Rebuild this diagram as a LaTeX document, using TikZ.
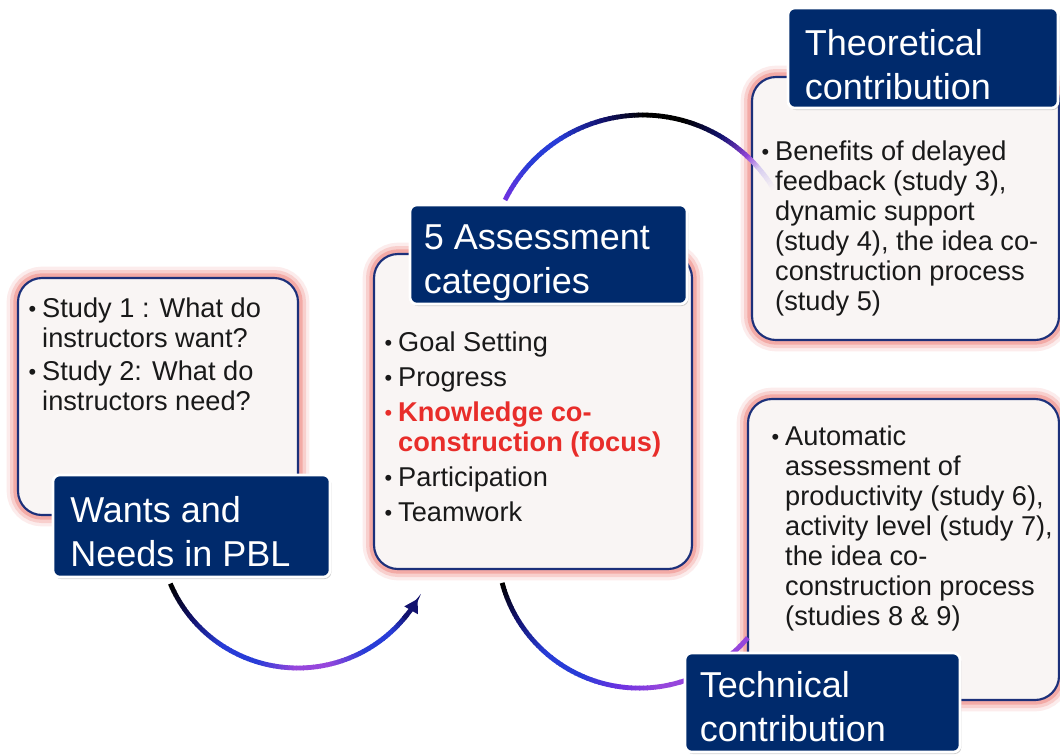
\documentclass[tikz,border=0pt]{standalone}
\usepackage{graphicx}
\usepackage{fontspec}
\setmainfont{Liberation Sans}
\usetikzlibrary{arrows.meta,shadows}

\definecolor{boxfill}{RGB}{249,245,244}
\definecolor{boxline}{RGB}{28,48,122}
\definecolor{glowpink}{RGB}{242,155,150}
\definecolor{titlefill}{RGB}{0,42,108}
\definecolor{arcnavy}{RGB}{18,18,110}
\definecolor{arcblue}{RGB}{40,60,215}
\definecolor{arcviolet}{RGB}{110,50,225}
\definecolor{arcpurple}{RGB}{150,70,220}
\definecolor{arcfade}{RGB}{215,205,240}
\definecolor{focusred}{RGB}{232,45,42}

\newcommand{\itm}{\makebox[9.5pt][l]{\hspace{-0.8pt}\raisebox{0.8pt}{\scalebox{.8}{\textbullet}}}}
\newcommand{\ind}{\hspace*{9.5pt}}

\tikzset{
  contentbox/.style={preaction={draw=glowpink,line width=17pt,opacity=.18},
    preaction={draw=glowpink,line width=12pt,opacity=.35},
    preaction={draw=glowpink,line width=7pt,opacity=.7},
    fill=boxfill, draw=boxline, line width=1.6pt, rounded corners=18pt},
  titlebox/.style={fill=titlefill, draw=white, line width=2pt, rounded corners=5pt,
    drop shadow={opacity=.35, shadow xshift=1pt, shadow yshift=-1.5pt}},
  titletext/.style={anchor=north west, inner sep=0pt, align=left, text=white,
    font=\fontsize{27}{33}\selectfont},
  bodytext/.style={anchor=north west, inner sep=0pt, align=left, text=black!90,
    font=\fontsize{20.4}{22.5}\selectfont},
  arcline/.style={line width=3.6pt},
}

\begin{document}
\begin{tikzpicture}[x=0.75pt,y=0.75pt,yscale=-1,xscale=1]
        \useasboundingbox (0,0) rectangle (1060,754);
        \fill[white] (0,0) rectangle (1060,754);

        %Shape: Rounded Rect
        \draw[contentbox] (18,278) rectangle (298,515);
        %Shape: Rounded Rect
        \draw[contentbox] (374,254) rectangle (692,569);
        %Shape: Rounded Rect
        \draw[contentbox] (752,77) rectangle (1059,340);
        %Shape: Rounded Rect
        \draw[contentbox] (748,399) rectangle (1059,700);

        % arc centres
        \coordinate (wantsarc) at (297.8,529.5);
        \coordinate (theoryarc) at (642.4,268.5);
        \coordinate (techarc) at (639.3,546.1);

        %Curve Lines: wants -> categories
        \foreach \a/\b/\ca/\cb in {157/140/black/arcnavy, 140/124/arcnavy/arcblue, 124/108/arcblue/arcblue, 108/92/arcblue/arcpurple, 92/78/arcpurple/arcpurple, 78/62/arcpurple/arcblue, 62/48/arcblue/arcblue, 48/38/arcblue/arcnavy}{
          \foreach \k in {0,...,9}{
            \pgfmathsetmacro{\ta}{\a+(\b-\a)*\k/10}
            \pgfmathsetmacro{\tb}{\a+(\b-\a)*(\k+1.2)/10}
            \pgfmathtruncatemacro{\mix}{100-10*\k}
            \draw[arcline, draw=\ca!\mix!\cb] ([shift={(\ta:138.5)}]wantsarc) arc[start angle=\ta, end angle=\tb, radius=138.5];
          }
        }
        \draw[arcline, draw=arcnavy, -{Triangle[length=10pt,width=11pt]}] ([shift={(40:138.5)}]wantsarc) arc[start angle=40, end angle=30, radius=138.5];

        %Curve Lines: categories -> theoretical
        \foreach \a/\b/\ca/\cb in {-153.5/-138/arcviolet/arcblue, -138/-124/arcblue/arcblue, -124/-106/arcblue/arcnavy, -106/-90/arcnavy/black, -90/-75/black/black, -75/-60/black/arcnavy, -60/-47/arcnavy/arcpurple, -47/-41/arcpurple/arcfade, -41/-31.5/arcfade/boxfill}{
          \foreach \k in {0,...,9}{
            \pgfmathsetmacro{\ta}{\a+(\b-\a)*\k/10}
            \pgfmathsetmacro{\tb}{\a+(\b-\a)*(\k+1.2)/10}
            \pgfmathtruncatemacro{\mix}{100-10*\k}
            \draw[arcline, draw=\ca!\mix!\cb] ([shift={(\ta:153.5)}]theoryarc) arc[start angle=\ta, end angle=\tb, radius=153.5];
          }
        }

        %Curve Lines: categories -> technical
        \foreach \a/\b/\ca/\cb in {165/150/black/arcnavy, 150/132/arcnavy/arcblue, 132/115/arcblue/arcblue, 115/98/arcblue/arcviolet, 98/82/arcviolet/arcpurple, 82/41/arcpurple/arcpurple}{
          \foreach \k in {0,...,9}{
            \pgfmathsetmacro{\ta}{\a+(\b-\a)*\k/10}
            \pgfmathsetmacro{\tb}{\a+(\b-\a)*(\k+1.2)/10}
            \pgfmathtruncatemacro{\mix}{100-10*\k}
            \draw[arcline, draw=\ca!\mix!\cb] ([shift={(\ta:142)}]techarc) arc[start angle=\ta, end angle=\tb, radius=142];
          }
        }

        %Shape: Rounded Rect
        \draw[titlebox] (53,475) rectangle (330,577);
        %Shape: Rounded Rect
        \draw[titlebox] (410,205) rectangle (687,304);
        %Shape: Rounded Rect
        \draw[titlebox] (788,8) rectangle (1058,108);
        %Shape: Rounded Rect
        \draw[titlebox] (685,653) rectangle (960,752);

        % Text Node
        \node[bodytext] (wantsitems) at (29.3,297.4) {\itm Study 1 : What do\\\ind instructors want?\\[2.6pt]\itm Study 2: What do\\\ind instructors need?};
        % Text Node
        \node[bodytext] (categoryitems) at (385.3,331.4) {\itm Goal Setting\\[3.75pt]\itm Progress\\[3.75pt]\textcolor{focusred}{\itm\textbf{Knowledge co-}}\\\ind\textcolor{focusred}{\textbf{construction (focus)}}\\[3.75pt]\itm Participation\\[3.75pt]\itm Teamwork};
        % Text Node
        \node[bodytext] (theoryitems) at (762.3,141) {\itm Benefits of delayed\\\ind feedback (study 3),\\\ind dynamic support\\\ind (study 4), the idea co-\\\ind construction process\\\ind (study 5)};
        % Text Node
        \node[bodytext] (techitems) at (772.3,425.5) {\itm Automatic\\\ind assessment of\\\ind productivity (study 6),\\\ind activity level (study 7),\\\ind the idea co-\\\ind construction process\\\ind (studies 8 \& 9)};

        % Text Node
        \node[titletext] (wantslabel) at (70,496) {Wants and\\Needs in PBL};
        % Text Node
        \node[titletext] (categorylabel) at (423.5,224) {5 Assessment\\categories};
        % Text Node
        \node[titletext] (theorylabel) at (804.5,29) {Theoretical\\contribution};
        % Text Node
        \node[titletext] (techlabel) at (699.5,671) {Technical\\contribution};
\end{tikzpicture}
\end{document}
